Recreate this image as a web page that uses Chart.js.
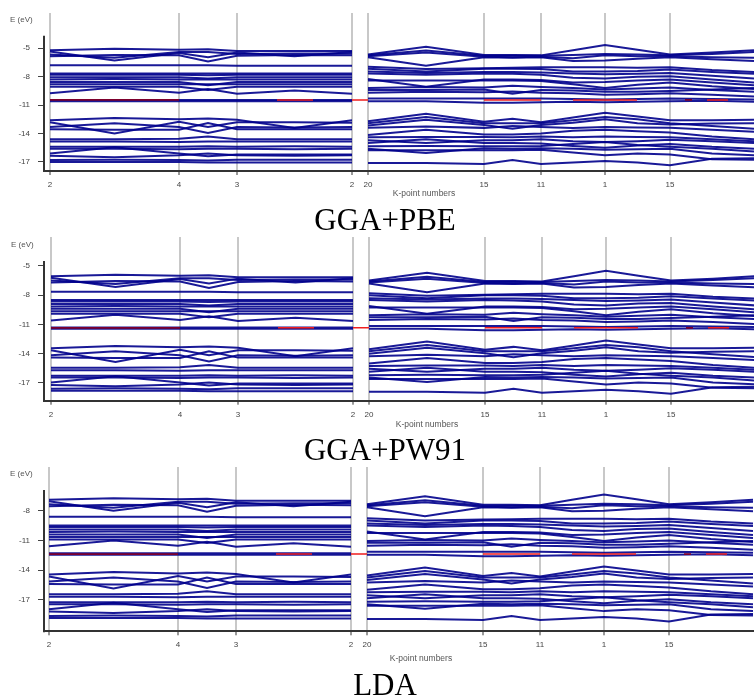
<!DOCTYPE html>
<html><head><meta charset="utf-8">
<script src="https://cdn.jsdelivr.net/npm/chart.js@4.4.0/dist/chart.umd.min.js"></script>
<style>
html,body{margin:0;padding:0;background:#fff}
body{width:754px;height:698px;overflow:hidden;position:relative;font-family:"Liberation Sans",Arial,sans-serif}
.pan{position:absolute;left:0;width:754px;height:200px}
.cap{position:absolute;left:0;width:770px;text-align:center;font-family:"Liberation Serif","Times New Roman",serif;font-size:31px;line-height:31px;color:#000;z-index:5}
.lab{position:absolute;font-size:8px;line-height:10px;color:#555;white-space:nowrap;z-index:5}
.kl{width:100px;text-align:center;font-size:8.5px}
</style></head><body>
<div class="pan" style="top:0"><canvas id="c1" width="754" height="200"></canvas></div>
<div class="pan" style="top:224px"><canvas id="c2" width="754" height="200"></canvas></div>
<div class="pan" style="top:454px"><canvas id="c3" width="754" height="200"></canvas></div>
<div class="lab" style="left:10px;top:15px">E (eV)</div>
<div class="lab" style="left:11px;top:240px">E (eV)</div>
<div class="lab" style="left:10px;top:469px">E (eV)</div>
<div class="lab kl" style="left:374px;top:188px">K-point numbers</div>
<div class="lab kl" style="left:377px;top:419px">K-point numbers</div>
<div class="lab kl" style="left:371px;top:653px">K-point numbers</div>
<div class="cap" style="top:204px">GGA+PBE</div>
<div class="cap" style="top:434px">GGA+PW91</div>
<div class="cap" style="top:669px">LDA</div>
<script>
// k-path node positions (path distance) and tick labels
const kNodes = [0,64.5,129,158,187,244.5,302,318,376,434,462.5,491,523,555,587.5,620,662,704];
const kTicks = [0,129,187,302,318,434,491,555,620];
const kLabels = ['2','4','3','2','20','15','11','1','15'];
const yTicksPBE = [-5,-8,-11,-14,-17];
const yTicksPW91 = [-5,-8,-11,-14,-17];
const yTicksLDA = [-8,-11,-14,-17];
const fermiPBE = -10.45, fermiPW91 = -11.35, fermiLDA = -12.38;
const fermiDarkSegs = [[0,129],[635,642]];
const fermiRedSegs = [[227,263],[302,318],[434,491],[523,587],[657,678]];

// band energies at kNodes: A mAB B mBC C mCD D | E mEF F mFG G mGH H mHI I mIJ J
const pbeTop = [
[-5.2,-5.05,-5.15,-5.1,-5.3,-5.3,-5.3,-5.65,-4.85,-5.7,-5.7,-5.75,-5.2,-4.65,-5.15,-5.65,-5.45,-5.2],
[-5.35,-6.3,-5.5,-5.95,-5.45,-5.85,-5.4,-5.75,-5.25,-5.8,-5.8,-5.8,-5.7,-5.6,-5.65,-5.75,-5.6,-5.4],
[-5.65,-6.0,-5.4,-5.4,-5.6,-5.55,-5.55,-5.85,-5.45,-5.9,-5.95,-5.9,-6.05,-5.75,-5.85,-5.85,-5.95,-6.0],
[-5.85,-5.7,-5.75,-6.4,-5.8,-5.7,-5.75,-5.95,-6.85,-5.95,-6.0,-5.95,-6.35,-6.3,-6.1,-5.95,-6.15,-6.35],
[-6.8,-6.8,-6.8,-6.8,-6.85,-6.85,-6.85,-6.95,-7.2,-7.1,-7.05,-7.0,-7.0,-7.0,-7.05,-7.0,-7.3,-7.5]];
const pbeMid = [
[-7.65,-7.65,-7.65,-7.65,-7.65,-7.65,-7.65,-7.15,-7.45,-7.15,-7.15,-7.2,-7.45,-7.45,-7.4,-7.25,-7.5,-7.7],
[-7.8,-7.8,-7.8,-7.85,-7.8,-7.8,-7.8,-7.45,-7.6,-7.5,-7.5,-7.55,-7.65,-7.75,-7.7,-7.6,-7.9,-8.2],
[-8.05,-8.05,-8.05,-8.2,-8.05,-8.05,-8.05,-7.65,-7.8,-7.65,-7.7,-7.8,-8.1,-8.2,-8.0,-7.95,-8.3,-8.6],
[-8.3,-8.25,-8.3,-8.3,-8.3,-8.3,-8.3,-8.25,-9.05,-8.3,-8.3,-8.35,-8.6,-8.55,-8.4,-8.3,-8.6,-8.9],
[-8.55,-8.55,-8.55,-8.9,-8.55,-8.55,-8.55,-8.4,-8.4,-8.4,-8.4,-8.45,-8.8,-9.2,-8.85,-8.6,-9.0,-9.3],
[-8.8,-8.8,-8.8,-8.8,-8.8,-8.8,-8.8,-9.2,-9.1,-9.15,-8.95,-9.1,-9.2,-9.35,-9.25,-9.15,-9.4,-9.6],
[-9.05,-9.05,-9.05,-9.4,-9.05,-9.05,-9.05,-9.4,-9.4,-9.35,-9.8,-9.4,-9.45,-9.6,-9.6,-9.5,-9.35,-9.2],
[-9.75,-9.15,-9.7,-9.3,-9.8,-9.45,-9.8,-9.7,-9.6,-9.65,-9.55,-9.7,-9.75,-9.9,-9.85,-9.75,-9.9,-10.1],
[-10.45,-10.45,-10.45,-10.45,-10.45,-10.45,-10.45,-10.3,-10.3,-10.3,-10.3,-10.3,-10.35,-10.4,-10.35,-10.3,-10.35,-10.4],
[-10.6,-10.6,-10.6,-10.6,-10.6,-10.6,-10.6,-10.6,-10.6,-10.75,-10.75,-10.7,-10.65,-10.7,-10.65,-10.6,-10.55,-10.65]];
const pbeLow = [
[-12.6,-12.35,-12.5,-12.4,-12.55,-13.4,-12.6,-12.7,-11.9,-12.75,-12.45,-12.8,-12.3,-11.8,-12.2,-12.6,-12.6,-12.55],
[-12.8,-14.0,-12.75,-13.3,-12.8,-12.8,-12.85,-12.9,-12.25,-12.9,-12.9,-12.9,-12.6,-12.25,-12.5,-12.9,-13.2,-13.5],
[-13.3,-12.9,-13.3,-13.95,-13.3,-13.35,-13.3,-13.15,-12.55,-13.1,-13.5,-13.1,-12.85,-12.5,-12.9,-13.05,-12.95,-12.9],
[-13.55,-13.6,-13.6,-12.9,-13.55,-13.55,-13.55,-13.4,-13.25,-13.4,-13.2,-13.3,-13.4,-13.3,-13.35,-13.4,-13.6,-13.8],
[-14.6,-14.6,-14.55,-14.3,-14.6,-14.6,-14.6,-14.15,-13.6,-14.1,-14.1,-14.0,-13.7,-13.6,-13.75,-13.9,-14.3,-14.6],
[-14.85,-14.85,-14.9,-14.85,-14.85,-14.85,-14.85,-14.4,-14.35,-14.35,-14.4,-14.3,-14.4,-14.3,-14.35,-14.4,-14.6,-14.8],
[-15.4,-15.4,-15.4,-15.35,-15.4,-15.35,-15.4,-14.7,-15.0,-14.7,-14.7,-14.6,-14.8,-14.9,-14.8,-14.65,-14.8,-15.0],
[-15.6,-15.6,-15.65,-15.6,-15.6,-15.65,-15.6,-15.0,-14.6,-15.0,-15.0,-15.05,-15.3,-15.5,-15.25,-15.1,-15.4,-15.6],
[-16.1,-15.45,-16.1,-16.4,-16.2,-16.2,-16.2,-15.35,-15.3,-15.35,-15.35,-15.3,-15.1,-14.9,-15.2,-15.4,-15.6,-15.9],
[-16.35,-16.5,-16.3,-16.1,-16.3,-16.35,-16.3,-15.6,-16.05,-15.55,-15.6,-15.55,-15.6,-15.7,-15.65,-15.6,-16.1,-16.3],
[-16.8,-16.75,-16.8,-16.85,-16.75,-16.75,-16.75,-15.75,-15.75,-15.75,-15.75,-15.7,-16.0,-16.3,-16.1,-16.2,-16.7,-16.75],
[-17.0,-17.0,-17.0,-17.05,-17.05,-17.05,-17.05,-17.1,-17.1,-17.2,-16.8,-17.2,-17.05,-16.9,-17.05,-17.35,-16.65,-16.6]];

const pw91Top = [
[-6.05,-5.9,-6.0,-5.95,-6.15,-6.15,-6.15,-6.5,-5.7,-6.55,-6.55,-6.6,-6.05,-5.5,-6.0,-6.5,-6.3,-6.05],
[-6.2,-7.15,-6.35,-6.8,-6.3,-6.7,-6.25,-6.6,-6.1,-6.65,-6.65,-6.65,-6.55,-6.45,-6.5,-6.6,-6.45,-6.25],
[-6.5,-6.85,-6.25,-6.25,-6.45,-6.4,-6.4,-6.7,-6.3,-6.75,-6.8,-6.75,-6.9,-6.6,-6.7,-6.7,-6.8,-6.85],
[-6.7,-6.55,-6.6,-7.25,-6.65,-6.55,-6.6,-6.8,-7.7,-6.8,-6.85,-6.8,-7.2,-7.15,-6.95,-6.8,-7.0,-7.2],
[-7.65,-7.65,-7.65,-7.65,-7.7,-7.7,-7.7,-7.8,-8.05,-7.95,-7.9,-7.85,-7.85,-7.85,-7.9,-7.85,-8.15,-8.35]];
const pw91Mid = [
[-8.5,-8.5,-8.5,-8.5,-8.5,-8.5,-8.5,-8.0,-8.3,-8.0,-8.0,-8.05,-8.3,-8.3,-8.25,-8.1,-8.35,-8.55],
[-8.65,-8.65,-8.65,-8.7,-8.65,-8.65,-8.65,-8.3,-8.45,-8.35,-8.35,-8.4,-8.5,-8.6,-8.55,-8.45,-8.75,-9.05],
[-8.9,-8.9,-8.9,-9.05,-8.9,-8.9,-8.9,-8.5,-8.65,-8.5,-8.55,-8.65,-8.95,-9.05,-8.85,-8.8,-9.15,-9.45],
[-9.15,-9.1,-9.15,-9.15,-9.15,-9.15,-9.15,-9.1,-9.9,-9.15,-9.15,-9.2,-9.45,-9.4,-9.25,-9.15,-9.45,-9.75],
[-9.4,-9.4,-9.4,-9.75,-9.4,-9.4,-9.4,-9.25,-9.25,-9.25,-9.25,-9.3,-9.65,-10.05,-9.7,-9.45,-9.85,-10.15],
[-9.65,-9.65,-9.65,-9.65,-9.65,-9.65,-9.65,-10.05,-9.95,-10.0,-9.8,-9.95,-10.05,-10.2,-10.1,-10.0,-10.25,-10.45],
[-9.9,-9.9,-9.9,-10.25,-9.9,-9.9,-9.9,-10.25,-10.25,-10.2,-10.65,-10.25,-10.3,-10.45,-10.45,-10.35,-10.2,-10.05],
[-10.6,-10.0,-10.55,-10.15,-10.65,-10.3,-10.65,-10.55,-10.45,-10.5,-10.4,-10.55,-10.6,-10.75,-10.7,-10.6,-10.75,-10.95],
[-11.3,-11.3,-11.3,-11.3,-11.3,-11.3,-11.3,-11.15,-11.15,-11.15,-11.15,-11.15,-11.2,-11.25,-11.2,-11.15,-11.2,-11.25],
[-11.45,-11.45,-11.45,-11.45,-11.45,-11.45,-11.45,-11.45,-11.45,-11.6,-11.6,-11.55,-11.5,-11.55,-11.5,-11.45,-11.4,-11.5]];
const pw91Low = [
[-13.45,-13.2,-13.35,-13.25,-13.4,-14.25,-13.45,-13.55,-12.75,-13.6,-13.3,-13.65,-13.15,-12.65,-13.05,-13.45,-13.45,-13.4],
[-13.65,-14.85,-13.6,-14.15,-13.65,-13.65,-13.7,-13.75,-13.1,-13.75,-13.75,-13.75,-13.45,-13.1,-13.35,-13.75,-14.05,-14.35],
[-14.15,-13.75,-14.15,-14.8,-14.15,-14.2,-14.15,-14.0,-13.4,-13.95,-14.35,-13.95,-13.7,-13.35,-13.75,-13.9,-13.8,-13.75],
[-14.4,-14.45,-14.45,-13.75,-14.4,-14.4,-14.4,-14.25,-14.1,-14.25,-14.05,-14.15,-14.25,-14.15,-14.2,-14.25,-14.45,-14.65],
[-15.45,-15.45,-15.4,-15.15,-15.45,-15.45,-15.45,-15.0,-14.45,-14.95,-14.95,-14.85,-14.55,-14.45,-14.6,-14.75,-15.15,-15.45],
[-15.7,-15.7,-15.75,-15.7,-15.7,-15.7,-15.7,-15.25,-15.2,-15.2,-15.25,-15.15,-15.25,-15.15,-15.2,-15.25,-15.45,-15.65],
[-16.25,-16.25,-16.25,-16.2,-16.25,-16.2,-16.25,-15.55,-15.85,-15.55,-15.55,-15.45,-15.65,-15.75,-15.65,-15.5,-15.65,-15.85],
[-16.45,-16.45,-16.5,-16.45,-16.45,-16.5,-16.45,-15.85,-15.45,-15.85,-15.85,-15.9,-16.15,-16.35,-16.1,-15.95,-16.25,-16.45],
[-16.95,-16.3,-16.95,-17.25,-17.05,-17.05,-17.05,-16.2,-16.15,-16.2,-16.2,-16.15,-15.95,-15.75,-16.05,-16.25,-16.45,-16.75],
[-17.2,-17.35,-17.15,-16.95,-17.15,-17.2,-17.15,-16.45,-16.9,-16.4,-16.45,-16.4,-16.45,-16.55,-16.5,-16.45,-16.95,-17.15],
[-17.6,-17.55,-17.6,-17.65,-17.55,-17.55,-17.55,-16.6,-16.6,-16.6,-16.6,-16.55,-16.85,-17.15,-16.95,-17.05,-17.5,-17.55],
[-17.8,-17.8,-17.8,-17.85,-17.85,-17.85,-17.85,-17.9,-17.9,-18.0,-17.6,-18.0,-17.85,-17.7,-17.85,-18.1,-17.45,-17.4]];

const ldaTop = [
[-6.9,-6.75,-6.85,-6.8,-7.0,-7.0,-7.0,-7.35,-6.55,-7.4,-7.4,-7.45,-6.9,-6.35,-6.85,-7.35,-7.15,-6.9],
[-7.05,-8.0,-7.2,-7.65,-7.15,-7.55,-7.1,-7.45,-6.95,-7.5,-7.5,-7.5,-7.4,-7.3,-7.35,-7.45,-7.3,-7.1],
[-7.35,-7.7,-7.1,-7.1,-7.3,-7.25,-7.25,-7.55,-7.15,-7.6,-7.65,-7.6,-7.75,-7.45,-7.55,-7.55,-7.65,-7.7],
[-7.55,-7.4,-7.45,-8.1,-7.5,-7.4,-7.45,-7.65,-8.55,-7.65,-7.7,-7.65,-8.05,-8.0,-7.8,-7.65,-7.85,-8.05],
[-8.6,-8.6,-8.6,-8.6,-8.65,-8.65,-8.65,-8.75,-9.0,-8.9,-8.85,-8.8,-8.8,-8.8,-8.85,-8.8,-9.1,-9.3]];
const ldaMid = [
[-9.5,-9.5,-9.5,-9.5,-9.5,-9.5,-9.5,-9.0,-9.3,-9.0,-9.0,-9.05,-9.3,-9.3,-9.25,-9.1,-9.35,-9.55],
[-9.65,-9.65,-9.65,-9.7,-9.65,-9.65,-9.65,-9.3,-9.45,-9.35,-9.35,-9.4,-9.5,-9.6,-9.55,-9.45,-9.75,-10.05],
[-9.9,-9.9,-9.9,-10.05,-9.9,-9.9,-9.9,-9.5,-9.65,-9.5,-9.55,-9.65,-9.95,-10.05,-9.85,-9.8,-10.15,-10.45],
[-10.15,-10.1,-10.15,-10.15,-10.15,-10.15,-10.15,-10.1,-10.9,-10.15,-10.15,-10.2,-10.45,-10.4,-10.25,-10.15,-10.45,-10.75],
[-10.4,-10.4,-10.4,-10.75,-10.4,-10.4,-10.4,-10.25,-10.25,-10.25,-10.25,-10.3,-10.65,-11.05,-10.7,-10.45,-10.85,-11.15],
[-10.65,-10.65,-10.65,-10.65,-10.65,-10.65,-10.65,-11.05,-10.95,-11.0,-10.8,-10.95,-11.05,-11.2,-11.1,-11.0,-11.25,-11.45],
[-10.9,-10.9,-10.9,-11.25,-10.9,-10.9,-10.9,-11.25,-11.25,-11.2,-11.65,-11.25,-11.3,-11.45,-11.45,-11.35,-11.2,-11.05],
[-11.6,-11.0,-11.55,-11.15,-11.65,-11.3,-11.65,-11.55,-11.45,-11.5,-11.4,-11.55,-11.6,-11.75,-11.7,-11.6,-11.75,-11.95],
[-12.3,-12.3,-12.3,-12.3,-12.3,-12.3,-12.3,-12.15,-12.15,-12.15,-12.15,-12.15,-12.2,-12.25,-12.2,-12.15,-12.2,-12.25],
[-12.45,-12.45,-12.45,-12.45,-12.45,-12.45,-12.45,-12.45,-12.45,-12.6,-12.6,-12.55,-12.5,-12.55,-12.5,-12.45,-12.4,-12.5]];
const ldaLow = [
[-14.45,-14.2,-14.35,-14.25,-14.4,-15.25,-14.45,-14.55,-13.75,-14.6,-14.3,-14.65,-14.15,-13.65,-14.05,-14.45,-14.45,-14.4],
[-14.65,-15.85,-14.6,-15.15,-14.65,-14.65,-14.7,-14.75,-14.1,-14.75,-14.75,-14.75,-14.45,-14.1,-14.35,-14.75,-15.05,-15.35],
[-15.15,-14.75,-15.15,-15.8,-15.15,-15.2,-15.15,-15.0,-14.4,-14.95,-15.35,-14.95,-14.7,-14.35,-14.75,-14.9,-14.8,-14.75],
[-15.4,-15.45,-15.45,-14.75,-15.4,-15.4,-15.4,-15.25,-15.1,-15.25,-15.05,-15.15,-15.25,-15.15,-15.2,-15.25,-15.45,-15.65],
[-16.45,-16.45,-16.4,-16.15,-16.45,-16.45,-16.45,-16.0,-15.45,-15.95,-15.95,-15.85,-15.55,-15.45,-15.6,-15.75,-16.15,-16.45],
[-16.7,-16.7,-16.75,-16.7,-16.7,-16.7,-16.7,-16.25,-16.2,-16.2,-16.25,-16.15,-16.25,-16.15,-16.2,-16.25,-16.45,-16.65],
[-17.25,-17.25,-17.25,-17.2,-17.25,-17.2,-17.25,-16.55,-16.85,-16.55,-16.55,-16.45,-16.65,-16.75,-16.65,-16.5,-16.65,-16.85],
[-17.45,-17.45,-17.5,-17.45,-17.45,-17.5,-17.45,-16.85,-16.45,-16.85,-16.85,-16.9,-17.15,-17.35,-17.1,-16.95,-17.25,-17.45],
[-17.95,-17.3,-17.95,-18.25,-18.05,-18.05,-18.05,-17.2,-17.15,-17.2,-17.2,-17.15,-16.95,-16.75,-17.05,-17.25,-17.45,-17.75],
[-18.2,-18.35,-18.15,-17.95,-18.15,-18.2,-18.15,-17.45,-17.9,-17.4,-17.45,-17.4,-17.45,-17.55,-17.5,-17.45,-17.95,-18.15],
[-18.65,-18.6,-18.65,-18.7,-18.6,-18.6,-18.6,-17.6,-17.6,-17.6,-17.6,-17.55,-17.85,-18.15,-17.95,-18.05,-18.55,-18.6],
[-18.85,-18.85,-18.85,-18.9,-18.9,-18.9,-18.9,-18.95,-18.95,-19.05,-18.65,-19.05,-18.9,-18.75,-18.9,-19.2,-18.5,-18.45]];

Chart.defaults.font.family = '"Liberation Sans", Arial, sans-serif';
Chart.defaults.animation = false;

function bandData(vals){
  const d = [];
  vals.forEach((v,i)=>{ if(i===7) d.push({x:310,y:null}); d.push({x:kNodes[i],y:v}); });
  return d;
}
function segData(segs, e){
  const d = [];
  segs.forEach(s=>{ d.push({x:s[0],y:e},{x:s[1],y:e},{x:s[1]+0.01,y:null}); });
  return d;
}
const axisLine = {
  id:'axisLine',
  afterDraw(chart, args, opts){
    const ys = chart.scales.y, ca = chart.chartArea, ctx = chart.ctx;
    ctx.save(); ctx.strokeStyle = '#333'; ctx.lineWidth = 2;
    ctx.beginPath(); ctx.moveTo(ca.left, ys.getPixelForValue(opts.top)); ctx.lineTo(ca.left, ca.bottom + 1); ctx.stroke();
    ctx.restore();
  }
};

function makePanel(id, groups, fermi, yMin, yMax, yTicks, axisTop, xMin, bottomH){
  const ds = [];
  ds.push({data:segData(fermiDarkSegs, fermi), borderColor:'rgb(125,0,45)', borderWidth:1.8, order:-2});
  ds.push({data:segData(fermiRedSegs, fermi), borderColor:'rgb(240,30,30)', borderWidth:1.5, order:-2});
  groups.forEach(g=>g.forEach(b=>ds.push({data:bandData(b), borderColor:'rgba(0,0,140,0.9)', borderWidth:2})));
  new Chart(document.getElementById(id), {
    type:'line',
    data:{datasets:ds},
    plugins:[axisLine],
    options:{
      responsive:false, animation:false, spanGaps:false,
      elements:{point:{radius:0}, line:{tension:0, fill:false}},
      layout:{padding:{top:13,left:0,right:0,bottom:0}},
      plugins:{legend:{display:false}, tooltip:{enabled:false}, axisLine:{top:axisTop}},
      scales:{
        x:{type:'linear', min:xMin, max:xMin+710, z:1,
          afterBuildTicks:s=>{ s.ticks = kTicks.map(v=>({value:v})); },
          afterFit:s=>{ s.height = bottomH; },
          grid:{color:'#c8c8c8', lineWidth:2, drawTicks:true, tickLength:4, tickColor:'#333', tickWidth:1},
          border:{display:true, color:'#333', width:2},
          ticks:{autoSkip:false, maxRotation:0, padding:5, color:'#444', font:{size:8}, callback:(v,i)=>kLabels[i]}
        },
        y:{type:'linear', min:yMin, max:yMax,
          afterBuildTicks:s=>{ s.ticks = yTicks.map(v=>({value:v})); },
          afterFit:s=>{ s.width = 44; },
          grid:{drawOnChartArea:false, drawTicks:true, tickLength:6, tickColor:'#444', tickWidth:1},
          border:{display:false},
          ticks:{padding:8, color:'#444', font:{size:8}, callback:v=>String(v)}
        }
      }
    }
  });
}
makePanel('c1', [pbeTop,pbeMid,pbeLow], fermiPBE, -17.95, -1.28, yTicksPBE, -3.67, -6, 29);
makePanel('c2', [pw91Top,pw91Mid,pw91Low], fermiPW91, -18.82, -2.03, yTicksPW91, -4.49, -7, 23.3);
makePanel('c3', [ldaTop,ldaMid,ldaLow], fermiLDA, -20.19, -3.58, yTicksLDA, -5.91, -5, 22.7);
</script>
</body></html>
